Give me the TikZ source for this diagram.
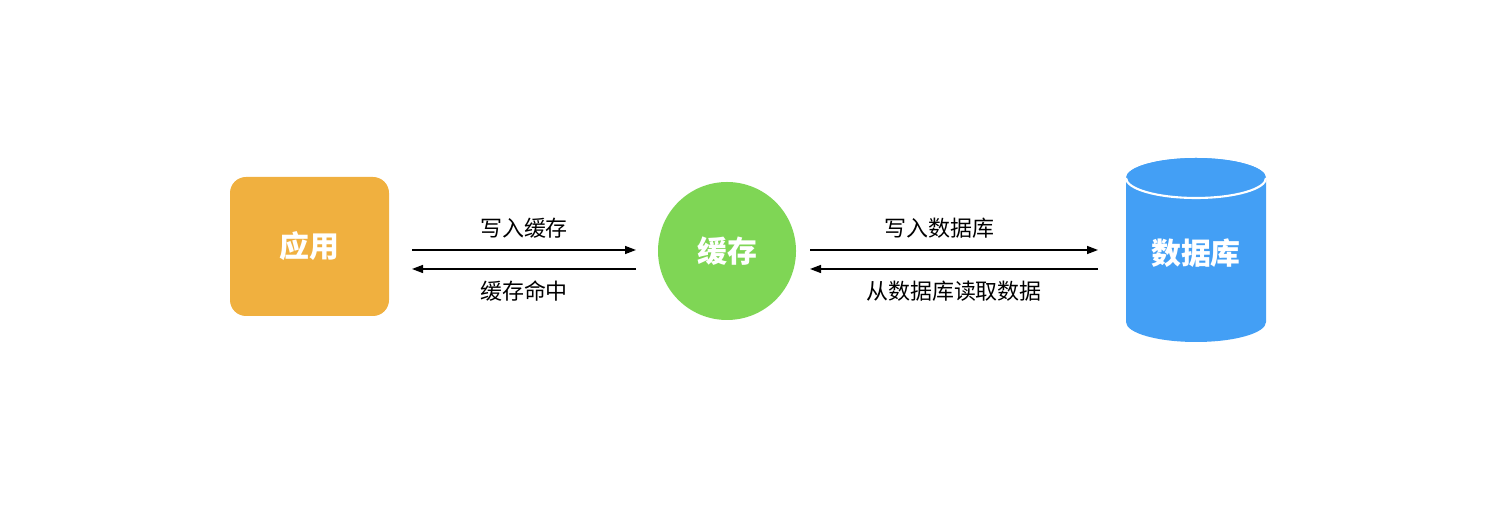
\documentclass[tikz,border=0pt]{standalone}
\usepackage{fontspec}
\setmainfont{Noto Sans CJK SC}
\usetikzlibrary{arrows.meta,positioning}
\definecolor{appcol}{HTML}{F0B03F}
\definecolor{cachecol}{HTML}{7FD655}
\definecolor{dbcol}{HTML}{439FF5}
\tikzset{
  flow/.style={-{Triangle[length=2.2mm,width=1.6mm]}, thick},
  lab/.style={font=\fontsize{12.5}{14}\selectfont},
  big/.style={font=\bfseries\fontsize{17}{19}\selectfont, text=white}
}
\begin{document}
\begin{tikzpicture}
    \useasboundingbox (0,0) rectangle (30,10.4);

    % nodes
    \node[big, fill=appcol, rounded corners=0.32cm, minimum width=3.18cm, minimum height=2.78cm] (app) at (6.19,5.47) {应用};
    \node[big, fill=cachecol, circle, minimum size=2.76cm] (cache) at (14.54,5.38) {缓存};

    % database cylinder
    \fill[dbcol] (22.52,6.84) -- (22.52,3.96) arc[start angle=180, end angle=360, x radius=1.4, y radius=0.4]
        -- (25.32,6.84) arc[start angle=0, end angle=180, x radius=1.4, y radius=0.4];
    \fill[dbcol] (23.92,6.84) ellipse[x radius=1.4, y radius=0.4];
    \draw[white, line width=1.2pt] (22.52,6.84) arc[start angle=180, end angle=360, x radius=1.4, y radius=0.4];
    \node[big] (db) at (23.92,5.34) {数据库};

    % arrow ends
    \coordinate (a1) at (8.24,5.40);
    \coordinate (a2) at (8.24,5.02);
    \coordinate (c1) at (12.72,5.40);
    \coordinate (c2) at (12.72,5.02);
    \coordinate (c3) at (16.20,5.40);
    \coordinate (c4) at (16.20,5.02);
    \coordinate (d1) at (21.96,5.40);
    \coordinate (d2) at (21.96,5.02);

    % connectors
    \draw[flow] (a1) -- (c1) node[lab, midway, above=3pt] (w1) {写入缓存};
    \draw[flow] (c2) -- (a2) node[lab, midway, below=3pt] (h1) {缓存命中};
    \draw[flow] (c3) -- (d1) node[lab, pos=0.45, above=3pt] (w2) {写入数据库};
    \draw[flow] (d2) -- (c4) node[lab, midway, below=3pt] (r1) {从数据库读取数据};
\end{tikzpicture}
\end{document}
